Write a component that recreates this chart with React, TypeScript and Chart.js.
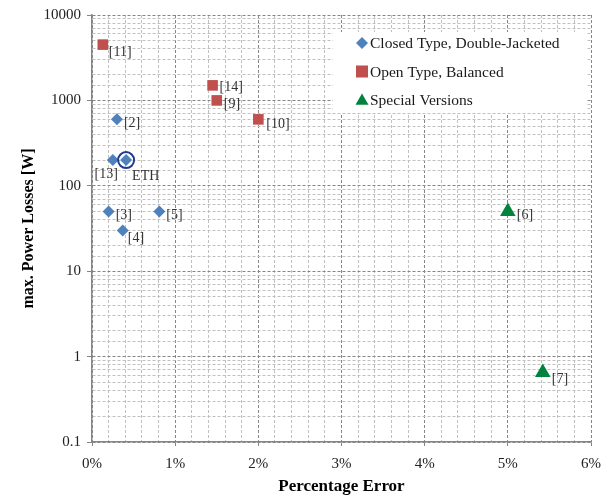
import React, { useEffect, useRef } from 'react';
import { Chart, registerables } from 'chart.js';
import { drawPoint } from 'chart.js/helpers';

Chart.register(...registerables);

// ---- data ----
const seriesNames = ['Closed Type, Double-Jacketed', 'Open Type, Balanced', 'Special Versions'];

const closedLabels = ['[2]', '[13]', 'ETH', '[3]', '[5]', '[4]'];
const closedX = [0.30, 0.25, 0.41, 0.20, 0.81, 0.37];
const closedY = [600, 200, 200, 50, 50, 30];

const openLabels = ['[11]', '[14]', '[9]', '[10]'];
const openX = [0.13, 1.45, 1.50, 2.00];
const openY = [4500, 1500, 1000, 600];

const specialLabels = ['[6]', '[7]'];
const specialX = [5.0, 5.42];
const specialY = [50, 0.65];

const highlightX = [0.41];
const highlightY = [200];

const xMin = 0;
const xMax = 6;
const xStep = 0.2;
const yDecades = [0.1, 1, 10, 100, 1000, 10000];

const xTitle = 'Percentage Error';
const yTitle = 'max. Power Losses [W]';

// ---- styling ----
const SERIF = '"Times New Roman", "Liberation Serif", "DejaVu Serif", serif';
const COLORS = ['#4F81BD', '#C0504D', '#00843D'];
const MAJOR_GRID = '#858585';
const MINOR_GRID = '#c0c0c0';

const labelPlacement: Record<string, [number, number, CanvasTextAlign]> = {
  '[11]': [6, 8, 'left'],
  '[13]': [5, 14, 'right'],
  'ETH': [6, 16, 'left'],
  '[4]': [5, 8, 'left'],
  '[14]': [7, 2, 'left'],
  '[10]': [8, 5, 'left'],
  '[6]': [9, 4, 'left'],
  '[7]': [9, 7, 'left'],
};

const toPoints = (xs: number[], ys: number[]) => xs.map((x, i) => ({ x, y: ys[i] }));

const pointLabelPlugin = {
  id: 'pointLabels',
  afterDatasetsDraw(chart: any) {
    const ctx = chart.ctx;
    ctx.save();
    ctx.font = `14px ${SERIF}`;
    ctx.fillStyle = '#333333';
    ctx.textBaseline = 'middle';
    chart.data.datasets.forEach((ds: any, di: number) => {
      if (!ds.pointLabels) return;
      const meta = chart.getDatasetMeta(di);
      meta.data.forEach((el: any, i: number) => {
        const text = ds.pointLabels[i];
        const [dx, dy, align] = labelPlacement[text] || [7, 4, 'left'];
        ctx.textAlign = align;
        ctx.fillText(text, el.x + dx, el.y + dy);
      });
    });
    ctx.restore();
  },
};

const legendBoxPlugin = {
  id: 'legendBox',
  afterDatasetsDraw(chart: any) {
    const { ctx, chartArea } = chart;
    const boxRight = chartArea.right - 4;
    const boxLeft = boxRight - 254;
    const boxTop = chartArea.top + 17;
    const boxH = 81;
    ctx.save();
    ctx.fillStyle = '#ffffff';
    ctx.fillRect(boxLeft, boxTop, boxRight - boxLeft, boxH);
    const styles = [
      { pointStyle: 'rectRot', radius: 6 },
      { pointStyle: 'rect', radius: 8.5 },
      { pointStyle: 'triangle', radius: 7.5 },
    ];
    ctx.font = `15.5px ${SERIF}`;
    ctx.textBaseline = 'middle';
    ctx.textAlign = 'left';
    seriesNames.forEach((name, i) => {
      const y = boxTop + 11 + i * 28.5;
      const mx = boxLeft + 29;
      ctx.fillStyle = COLORS[i];
      ctx.strokeStyle = COLORS[i];
      drawPoint(ctx, { ...styles[i], rotation: 0, borderWidth: 0 } as any, mx, y + (i === 2 ? 1 : 0));
      ctx.fillStyle = '#1a1a1a';
      ctx.fillText(name, boxLeft + 37, y + 1);
    });
    ctx.restore();
  },
};

const isInt = (v: number) => Math.abs(v - Math.round(v)) < 1e-6;
const isDecade = (v: number) => yDecades.some((d) => Math.abs(v / d - 1) < 1e-6);

export default function App() {
  const ref = useRef<HTMLCanvasElement>(null);

  useEffect(() => {
    if (!ref.current) return;
    const chart = new Chart(ref.current, {
      type: 'scatter',
      data: {
        datasets: [
          {
            label: seriesNames[0],
            data: toPoints(closedX, closedY),
            pointStyle: 'rectRot',
            pointRadius: 6,
            backgroundColor: COLORS[0],
            borderColor: COLORS[0],
            borderWidth: 0,
            order: 1,
            pointLabels: closedLabels,
          } as any,
          {
            label: seriesNames[1],
            data: toPoints(openX, openY),
            pointStyle: 'rect',
            pointRadius: 7.5,
            backgroundColor: COLORS[1],
            borderColor: COLORS[1],
            borderWidth: 0,
            order: 1,
            pointLabels: openLabels,
          } as any,
          {
            label: seriesNames[2],
            data: toPoints(specialX, specialY),
            pointStyle: 'triangle',
            pointRadius: 9,
            backgroundColor: COLORS[2],
            borderColor: COLORS[2],
            borderWidth: 0,
            order: 1,
            pointLabels: specialLabels,
          } as any,
          {
            label: 'ETH highlight',
            data: toPoints(highlightX, highlightY),
            pointStyle: 'circle',
            pointRadius: 8,
            backgroundColor: 'rgba(0,0,0,0)',
            borderColor: '#1F3A93',
            borderWidth: 2,
            order: 0,
          } as any,
        ],
      },
      options: {
        animation: false,
        responsive: false,
        events: [],
        layout: { padding: { left: 14, top: 15, right: 25, bottom: 0 } },
        plugins: {
          legend: { display: false },
          tooltip: { enabled: false },
        },
        scales: {
          x: {
            type: 'linear',
            min: xMin,
            max: xMax,
            afterFit: (scale: any) => {
              scale.height = 55;
            },
            ticks: {
              stepSize: xStep,
              autoSkip: false,
              maxRotation: 0,
              padding: 9,
              color: '#222222',
              font: { family: SERIF, size: 15 },
              callback: (v: any) => (isInt(Number(v)) ? `${Math.round(Number(v))}%` : ''),
            },
            grid: {
              color: (c: any) => (c.tick && isInt(c.tick.value) ? MAJOR_GRID : MINOR_GRID),
              tickColor: (c: any) => (c.tick && isInt(c.tick.value) ? MAJOR_GRID : 'rgba(0,0,0,0)'),
              tickLength: 4,
              lineWidth: 1,
            },
            border: { display: true, color: '#858585', width: 1.5, dash: [3, 2] },
            title: {
              display: true,
              text: xTitle,
              color: '#000000',
              font: { family: SERIF, size: 17, weight: 'bold' },
              padding: { top: 0, bottom: 0 },
            },
          },
          y: {
            type: 'logarithmic',
            min: yDecades[0],
            max: yDecades[yDecades.length - 1],
            afterFit: (scale: any) => {
              scale.width = 78;
            },
            ticks: {
              autoSkip: false,
              padding: 6,
              color: '#222222',
              font: { family: SERIF, size: 15 },
              callback: (v: any) => (isDecade(Number(v)) ? String(Number(v)) : ''),
            },
            grid: {
              color: (c: any) => (c.tick && isDecade(c.tick.value) ? MAJOR_GRID : MINOR_GRID),
              tickColor: (c: any) => (c.tick && isDecade(c.tick.value) ? MAJOR_GRID : 'rgba(0,0,0,0)'),
              tickLength: 5,
              lineWidth: 1,
            },
            border: { display: true, color: '#858585', width: 1.5, dash: [3, 2] },
            title: {
              display: true,
              text: yTitle,
              color: '#000000',
              font: { family: SERIF, size: 16, weight: 'bold' },
              padding: { top: 5, bottom: 0 },
            },
          },
        },
      } as any,
      plugins: [pointLabelPlugin, legendBoxPlugin],
    });
    return () => chart.destroy();
  }, []);

  return (
    <div style={{ position: 'absolute', left: 0, top: 0, width: 616, height: 497, background: '#fff' }}>
      <canvas ref={ref} width={616} height={497} style={{ display: 'block' }} />
    </div>
  );
}
